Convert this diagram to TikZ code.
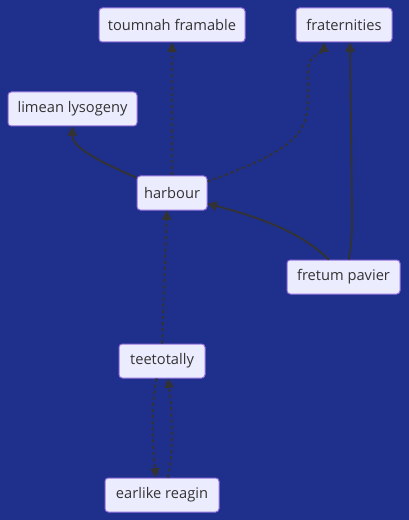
\documentclass[tikz,border=0pt]{standalone}
\usepackage{fontspec}
\setmainfont{Open Sans}
\usetikzlibrary{arrows.meta}
\definecolor{bg}{HTML}{1E2F8C}
\definecolor{nodefill}{HTML}{ECECFF}
\definecolor{nodeborder}{HTML}{9370DB}
\definecolor{edge}{HTML}{333333}
\definecolor{txt}{HTML}{333333}
\begin{document}
\begin{tikzpicture}[x=0.75pt,y=-0.75pt,
  box/.style={draw=nodeborder,fill=nodefill,rounded corners=2.5pt,line width=0.75pt,
    text=txt,font=\fontsize{11}{13}\selectfont,inner sep=0pt,minimum height=25.5pt},
  link/.style={draw=edge,line width=1.4pt,-{Triangle[length=7pt,width=7pt]}},
  dotlink/.style={link,line width=1.5pt,dash pattern=on 2.3pt off 2.3pt}]
\fill[bg] (0,0) rectangle (409,520);
\useasboundingbox (0,0) rectangle (409,520);
\node[box,minimum width=109.5pt] (toum) at (172,25) {toumnah framable};
\node[box,minimum width=72pt] (frat) at (344,25) {fraternities};
\node[box,minimum width=96.75pt] (lime) at (72.5,109) {limean lysogeny};
\node[box,minimum width=52.5pt] (harb) at (172,193) {harbour};
\node[box,minimum width=84.75pt] (fret) at (343.5,277) {fretum pavier};
\node[box,minimum width=64.5pt] (teet) at (162,361) {teetotally};
\node[box,minimum width=85.5pt] (earl) at (162,495) {earlike reagin};
\draw[dotlink] (harb.north) -- (toum.south);
\draw[link] ([yshift=-1.5pt]harb.north west) .. controls (90,158) and (72,145) .. (lime.south);
\draw[dotlink] ([yshift=-4.5pt]harb.north east) .. controls (290,152) and (308,135) .. (308,100) -- (308,70) .. controls (308,55) and (324,52) .. ([xshift=-15pt]frat.south);
\draw[link] ([xshift=4pt]fret.north) .. controls (352,240) and (352,232) .. (352,215) -- ([xshift=4.5pt]frat.south);
\draw[link] ([xshift=-11pt]fret.north) .. controls (300,232) and (262,218) .. ([yshift=-8pt]harb.east);
\draw[dotlink] (teet.north) -- ([xshift=-3.75pt]harb.south);
\draw[dotlink] ([xshift=-4pt]teet.south) .. controls (150,410) and (153,450) .. ([xshift=-4.5pt]earl.north);
\draw[dotlink] ([xshift=4.5pt]earl.north) .. controls (174,450) and (172,410) .. ([xshift=4.5pt]teet.south);
\end{tikzpicture}
\end{document}
